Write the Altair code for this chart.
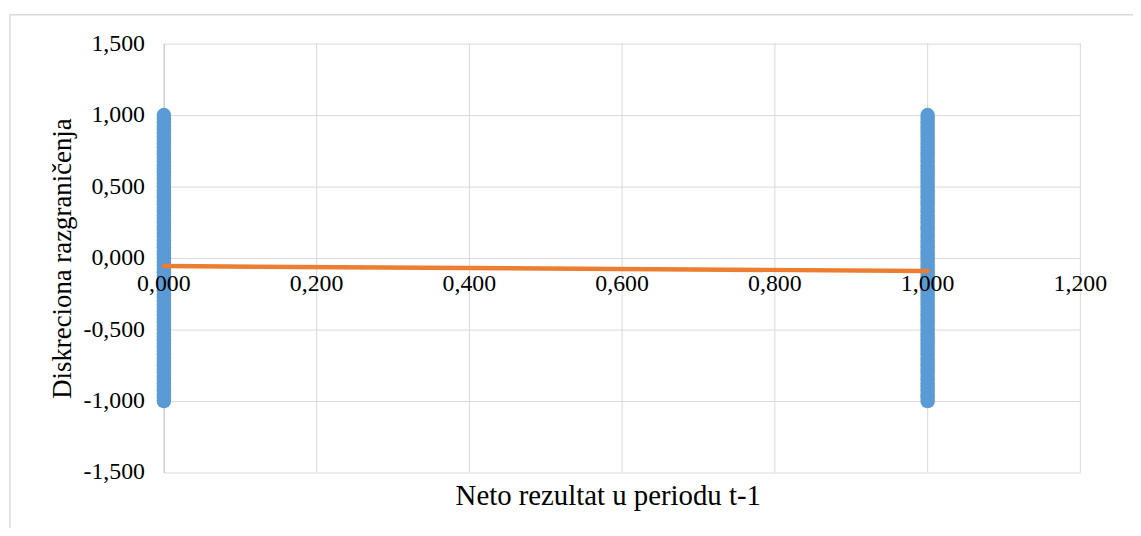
import altair as alt
import pandas as pd

# ---- data ----
x_groups = [0.0, 1.0]
y_values = [
    -1.000, -0.975, -0.950, -0.925, -0.900, -0.875, -0.850, -0.825, -0.800, -0.775,
    -0.750, -0.725, -0.700, -0.675, -0.650, -0.625, -0.600, -0.575, -0.550, -0.525,
    -0.500, -0.475, -0.450, -0.425, -0.400, -0.375, -0.350, -0.325, -0.300, -0.275,
    -0.250, -0.225, -0.200, -0.175, -0.150, -0.125, -0.100, -0.075, -0.050, -0.025,
    0.000, 0.025, 0.050, 0.075, 0.100, 0.125, 0.150, 0.175, 0.200, 0.225,
    0.250, 0.275, 0.300, 0.325, 0.350, 0.375, 0.400, 0.425, 0.450, 0.475,
    0.500, 0.525, 0.550, 0.575, 0.600, 0.625, 0.650, 0.675, 0.700, 0.725,
    0.750, 0.775, 0.800, 0.825, 0.850, 0.875, 0.900, 0.925, 0.950, 0.975,
    1.000,
]
trend_x = [0.0, 1.0]
trend_y = [-0.056, -0.090]
x_ticks = [0.0, 0.2, 0.4, 0.6, 0.8, 1.0, 1.2]
y_ticks = [-1.5, -1.0, -0.5, 0.0, 0.5, 1.0, 1.5]
x_title = "Neto rezultat u periodu t-1"
y_title = "Diskreciona razgraničenja"

points_df = pd.DataFrame(
    [{"x": gx, "y": yv} for gx in x_groups for yv in y_values]
)
trend_df = pd.DataFrame({"x": trend_x, "y": trend_y})
xtick_df = pd.DataFrame({"v": x_ticks})
ytick_df = pd.DataFrame({"v": y_ticks})

FONT = "Liberation Serif"
LABEL_SIZE = 24
fmt_expr = "replace(replace(format(datum.v, '.3f'), '.', ','), '\u2212', '-')"

PLOT_W = 923
PLOT_H = 432

xscale = alt.Scale(domain=[0, 1.2], nice=False, zero=False)
yscale = alt.Scale(domain=[-1.5, 1.5], nice=False, zero=False)

x_axis = alt.Axis(
    values=x_ticks, labels=False, grid=False, domain=False, ticks=False,
    offset=-PLOT_H / 2,
    title=x_title, titleFont=FONT, titleFontSize=29, titleFontWeight="normal",
    titleColor="#000000", titleX=447, titleAlign="center", titleY=239,
    titleBaseline="middle",
)
y_axis = alt.Axis(
    values=y_ticks, labels=False, grid=True, gridColor="#d9d9d9",
    gridWidth=1, domain=True, domainColor="#bfbfbf", domainWidth=1, ticks=False,
    title=y_title, titleFont=FONT, titleFontSize=27, titleFontWeight="normal",
    titleColor="#000000", titleX=-102, titleY=PLOT_H / 2, titleAngle=270,
    titleAlign="center", titleBaseline="middle",
)

frame = alt.Chart(pd.DataFrame({"a": [0]})).mark_rect(
    fillOpacity=0, stroke="#d9d9d9", strokeWidth=1.5
).encode(
    x=alt.value(-155), x2=alt.value(1200), y=alt.value(-29), y2=alt.value(800)
)

xgrid = alt.Chart(xtick_df).mark_rule(color="#d9d9d9", strokeWidth=1).encode(
    x=alt.X("v:Q", scale=xscale, axis=x_axis)
)

points = alt.Chart(points_df).mark_circle(
    size=214, opacity=1, color="#5b9bd5"
).encode(
    x=alt.X("x:Q", scale=xscale, axis=x_axis),
    y=alt.Y("y:Q", scale=yscale, axis=y_axis),
)

trend = alt.Chart(trend_df).mark_line(
    color="#ed7d31", strokeWidth=4.5, strokeCap="round"
).encode(
    x=alt.X("x:Q", scale=xscale, axis=x_axis),
    y=alt.Y("y:Q", scale=yscale, axis=y_axis),
)

xlabels = alt.Chart(xtick_df).transform_calculate(lab=fmt_expr).mark_text(
    font=FONT, fontSize=LABEL_SIZE, color="#000000", align="center",
    baseline="top", dy=14
).encode(
    x=alt.X("v:Q", scale=xscale, axis=x_axis),
    y=alt.datum(0, scale=yscale, axis=y_axis),
    text="lab:N",
)

ylabels = alt.Chart(ytick_df).transform_calculate(lab=fmt_expr).mark_text(
    font=FONT, fontSize=LABEL_SIZE, color="#000000", align="right",
    baseline="middle"
).encode(
    x=alt.value(-19),
    y=alt.Y("v:Q", scale=yscale, axis=y_axis),
    text="lab:N",
)

chart = alt.layer(frame, xgrid, points, trend, xlabels, ylabels).properties(
    width=PLOT_W,
    height=PLOT_H,
    padding={"left": 157, "top": 34, "right": 53, "bottom": 54},
    autosize="none",
).configure_view(stroke=None)

chart.save("out.html", embed_options={"renderer": "svg", "actions": False})
